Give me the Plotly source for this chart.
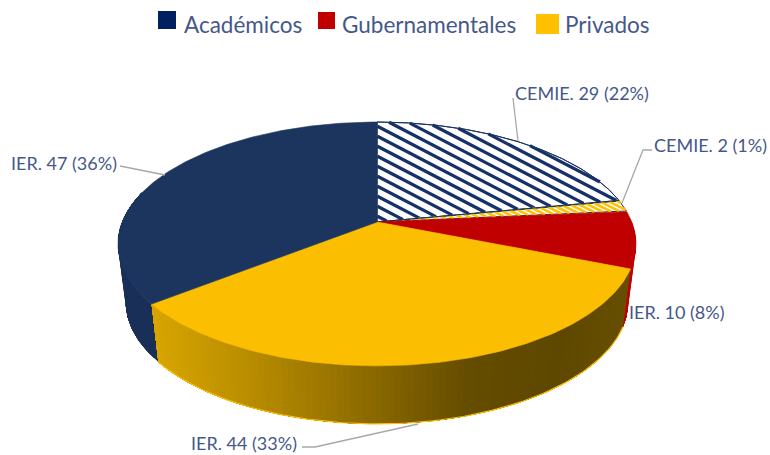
import numpy as np
import plotly.graph_objects as go

# ---- data (clockwise from 12 o'clock) ----
categories = ["CEMIE", "CEMIE", "IER", "IER", "IER"]
groups = ["Académicos", "Privados", "Gubernamentales", "Privados", "Académicos"]
values = [29, 2, 10, 44, 47]
percents = [22, 1, 8, 33, 36]
legend_names = ["Académicos", "Gubernamentales", "Privados"]

# ---- style / geometry ----
NAVY, RED, GOLD = "#1C355E", "#C00000", "#FCBE00"
TEXT = "#46588A"
LEADER = "#A8A8A8"
CX, CY, R = 377.0, 222.0, 254.8      # disk apex and radius on screen
K, A = 0.18, -78.0                   # perspective of the disk
WALL_H, WALL_SCALE = 58.0, 0.97      # depth of the pie's side


def rim(theta_deg):
    t = np.radians(theta_deg)
    d = 1 + K * np.cos(t)
    return CX + R * np.sin(t) / d, (CY + A * np.cos(t)) / d


def base(theta_deg):
    x, y = rim(theta_deg)
    return CX + (x - CX) * WALL_SCALE, y + WALL_H


def inverse(x, y):
    c = (y - CY) / (A - K * y)
    s = (x - CX) * (1 + K * c) / R
    return s, c


def wedge(t0, t1):
    th = np.linspace(t0, t1, 160)
    x, y = rim(th)
    return np.r_[CX, x, CX], np.r_[CY, y, CY]


def stripes(t0, t1, slope, spacing):
    """Diagonal hatch lines clipped to a wedge of the disk."""
    xs, ys = [], []
    xx = np.linspace(100, 660, 1400)
    for b in np.arange(-400, 300, spacing):
        yy = slope * xx + b
        s, c = inverse(xx, yy)
        ang = np.degrees(np.arctan2(s, c)) % 360
        inside = (s * s + c * c <= 1) & (ang >= t0) & (ang <= t1)
        if inside.any():
            xs += [xx[inside][0], xx[inside][-1], None]
            ys += [yy[inside][0], yy[inside][-1], None]
    return xs, ys


def poly(fig, x, y, color, line=None, width=0.6):
    fig.add_trace(go.Scatter(x=x, y=y, mode="lines", fill="toself", fillcolor=color,
                             line=dict(color=line or color, width=width),
                             hoverinfo="skip", showlegend=False))


def mix(x):
    px = [150, 250, 320, 470, 560, 640]
    r = [216, 184, 158, 100, 94, 104]
    g = [165, 140, 120, 76, 72, 80]
    return f"rgb({np.interp(x, px, r):.0f},{np.interp(x, px, g):.0f},0)"


edges = np.r_[0, np.cumsum(values)] / sum(values) * 360
fig = go.Figure()


# side walls: each band runs on to the wall's far end, so no seams show
def wall(t0, t1, colorfn, n=90):
    th = np.linspace(t0, t1, n + 1)
    for a in th[:-1]:
        part = np.linspace(a, t1, 60)
        xa, ya = rim(part)
        xb, yb = base(part[::-1])
        col = colorfn(float(rim(a + (t1 - t0) / n / 2)[0]))
        fig.add_trace(go.Scatter(x=np.r_[xa, xb, xa[0]], y=np.r_[ya, yb, ya[0]], mode="lines",
                                 fill="toself", fillcolor=col, line=dict(width=0),
                                 hoverinfo="skip", showlegend=False))


wall(88, edges[3], lambda x: RED, 10)
wall(edges[4], 285, lambda x: "#1A2F58", 30)
wall(edges[3], edges[4], mix, 100)
bx, by = base(np.linspace(edges[3], edges[4], 120))
fig.add_trace(go.Scatter(x=bx, y=by, mode="lines", line=dict(color="#FFC000", width=1.2),
                         hoverinfo="skip", showlegend=False))

# top face
x, y = wedge(edges[0], edges[1]); poly(fig, x, y, "white", NAVY, 1)
hx, hy = stripes(edges[0], edges[1], 0.52, 10)
fig.add_trace(go.Scatter(x=hx, y=hy, mode="lines", line=dict(color="#16306A", width=3.2),
                         hoverinfo="skip", showlegend=False))
x, y = wedge(edges[1], edges[2]); poly(fig, x, y, "white", NAVY, 1)
hx, hy = stripes(edges[1], edges[2], 0.5, 4.5)
fig.add_trace(go.Scatter(x=hx, y=hy, mode="lines", line=dict(color="#FFC000", width=2.6),
                         hoverinfo="skip", showlegend=False))
x, y = wedge(edges[0], edges[1])
fig.add_trace(go.Scatter(x=x, y=y, mode="lines", line=dict(color=NAVY, width=1),
                         hoverinfo="skip", showlegend=False))
x, y = wedge(edges[2], edges[3]); poly(fig, x, y, RED)
x, y = wedge(edges[3], edges[4]); poly(fig, x, y, GOLD)
x, y = wedge(edges[4], edges[5]); poly(fig, x, y, NAVY)

# leader lines
leaders = [
    ([513, 518], [98, 141]),
    ([652, 643, 622], [150, 150, 203]),
    ([120, 165], [166, 175]),
    ([302, 315, 418], [447, 447, 424]),
]
for lx, ly in leaders:
    fig.add_trace(go.Scatter(x=lx, y=ly, mode="lines", line=dict(color=LEADER, width=1.3),
                             hoverinfo="skip", showlegend=False))

# data labels
label_pos = [(513, 93), (652, 145), (627, 312), (189, 443), (9, 163)]
annotations = []
for cat, v, p, (lx, ly) in zip(categories, values, percents, label_pos):
    annotations.append(dict(x=lx, y=ly, text=f"{cat}. {v} ({p}%)", showarrow=False,
                            xanchor="left", yanchor="middle", xref="x", yref="y",
                            font=dict(family="Lato", size=18, color=TEXT)))

# legend
legend_pos = [(182, 24), (340, 24), (563, 24)]
swatches = [(158, 176, 11, 29, "#002060"), (318, 335, 12, 29, RED), (536, 559, 14, 34, "#FFC000")]
for name, (lx, ly) in zip(legend_names, legend_pos):
    annotations.append(dict(x=lx, y=ly, text=name, showarrow=False, xanchor="left",
                            yanchor="middle", xref="x", yref="y",
                            font=dict(family="Lato", size=22.5, color=TEXT)))
shapes = [dict(type="rect", x0=a, x1=b, y0=c, y1=d, fillcolor=col, line_width=0,
               xref="x", yref="y") for a, b, c, d, col in swatches]

fig.update_layout(
    width=770, height=455, margin=dict(l=0, r=0, t=0, b=0),
    paper_bgcolor="white", plot_bgcolor="white", showlegend=False,
    xaxis=dict(range=[0, 770], visible=False, fixedrange=True),
    yaxis=dict(range=[455, 0], visible=False, fixedrange=True),
    annotations=annotations, shapes=shapes,
)
fig.write_html("out.html", config=dict(displayModeBar=False),
               post_script="document.body.style.margin='0';document.body.style.overflow='hidden';")
